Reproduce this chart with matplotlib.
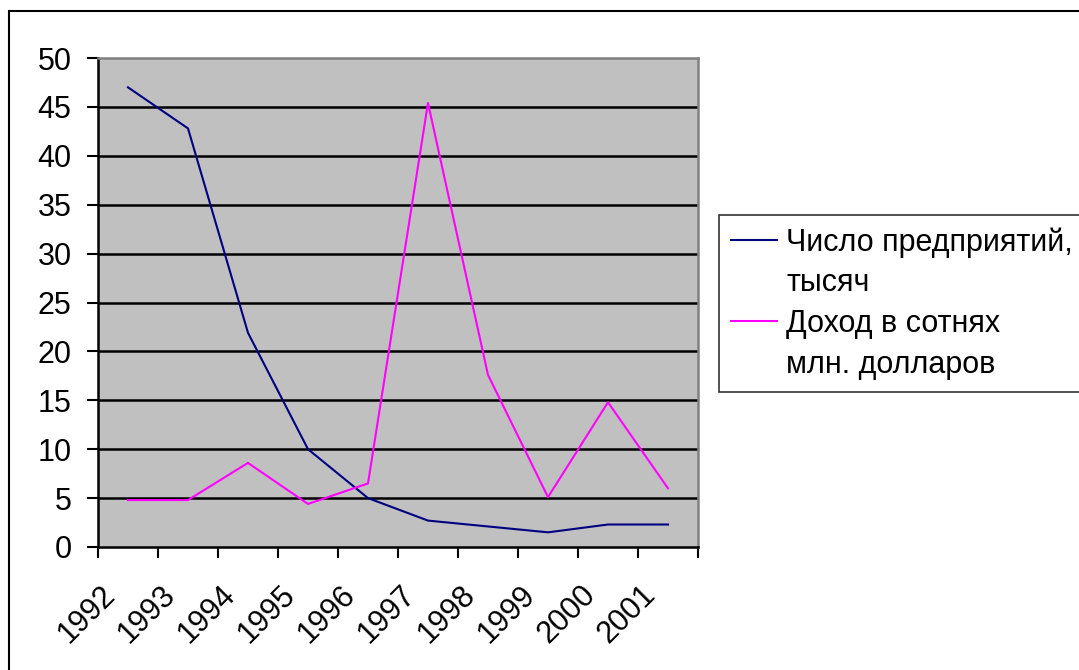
import numpy as np
import matplotlib.pyplot as plt
from matplotlib.patches import Rectangle
from matplotlib.lines import Line2D

# Данные
years = ['1992', '1993', '1994', '1995', '1996', '1997', '1998', '1999', '2000', '2001']
firms = [47.0, 42.8, 21.9, 10.0, 5.0, 2.7, 2.1, 1.5, 2.3, 2.3]
income = [4.8, 4.8, 8.6, 4.4, 6.5, 45.4, 17.6, 5.1, 14.8, 6.0]
firms_label = ['Число предприятий,', 'тысяч']
income_label = ['Доход в сотнях', 'млн. долларов']

plt.rcParams['font.family'] = ['Liberation Sans', 'DejaVu Sans']

W, H = 1079, 670
fig = plt.figure(figsize=(W / 100, H / 100), dpi=100)
ax = fig.add_axes([98 / W, 1 - 547 / H, 600 / W, 489 / H])
ax.set_facecolor('#c0c0c0')

x = np.arange(len(years)) + 0.5
l1, = ax.plot(x, firms, color='#000080', lw=1.5)
l2, = ax.plot(x, income, color='#ff00ff', lw=1.5)

# Горизонтальные линии сетки
for yv in range(5, 50, 5):
    ax.axhline(yv, color='black', lw=1.8, zorder=1)

ax.set_xlim(0, len(years))
ax.set_ylim(0, 50)
ax.set_yticks(range(0, 51, 5))
ax.tick_params(axis='y', direction='out', length=8, width=1.5, pad=11, labelsize=22)

# Засечки на границах категорий, подписи отдельно
ax.set_xticks(range(len(years) + 1))
ax.set_xticklabels([])
ax.tick_params(axis='x', which='major', direction='out', length=8, width=1.5)
ax.set_xticks(np.arange(len(years)) + 0.22, minor=True)
ax.set_xticklabels(years, minor=True, rotation=45, ha='right', va='center',
                   rotation_mode='anchor', fontsize=22)
ax.tick_params(axis='x', which='minor', length=0, pad=31)

for s in ['left', 'bottom']:
    ax.spines[s].set_color('black')
    ax.spines[s].set_linewidth(1.8)
for s in ['top', 'right']:
    ax.spines[s].set_color('#808080')
    ax.spines[s].set_linewidth(1.8)

# Легенда: линия напротив первой строки подписи
blank = Line2D([], [], color='none')
leg = fig.legend([l1, blank, l2, blank], firms_label + income_label,
                 loc='upper left', bbox_to_anchor=(719 / W, 1 - 215 / H),
                 fontsize=22, frameon=True, fancybox=False, shadow=False,
                 borderpad=0.4, handlelength=1.5, handletextpad=0.3,
                 labelspacing=0.35, borderaxespad=0)
leg.get_frame().set_edgecolor('black')
leg.get_frame().set_linewidth(1.2)

# Рамка всей диаграммы
fig.patches.append(Rectangle((9 / W, -0.1), 1.2, 1.1 - 11 / H,
                             transform=fig.transFigure, fill=False,
                             edgecolor='black', lw=1.5))

fig.savefig('out.png', dpi=100)
